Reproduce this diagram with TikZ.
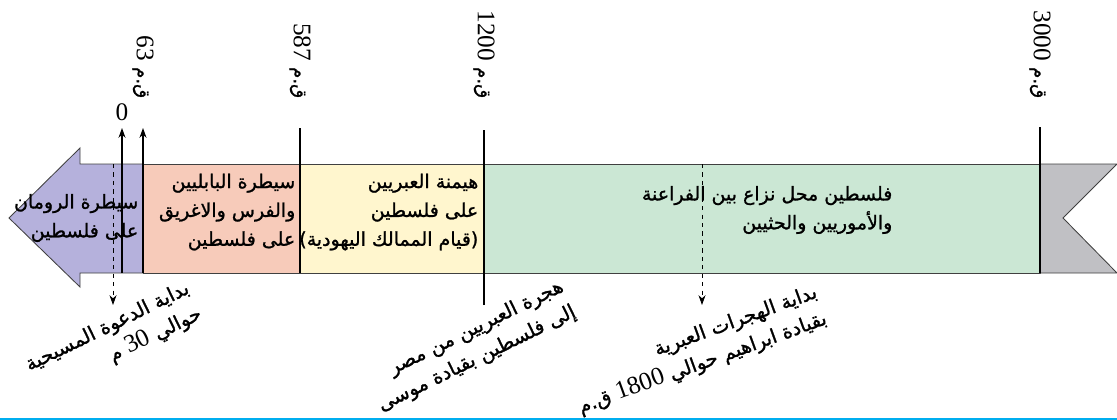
\documentclass[tikz,border=0pt]{standalone}
\usepackage{fontspec}
\setmainfont{Liberation Serif}
\newfontfamily\arabicfont[Script=Arabic, FakeBold=1.2]{DejaVu Sans}
\TeXXeTstate=1
\usetikzlibrary{arrows.meta}

\definecolor{romanc}{RGB}{181,177,220}
\definecolor{babylc}{RGB}{247,203,186}
\definecolor{hebrewc}{RGB}{255,246,206}
\definecolor{canaanc}{RGB}{203,231,212}
\definecolor{flagc}{RGB}{192,192,196}
\definecolor{rulec}{RGB}{0,174,239}

\newcommand{\artxt}[1]{{\arabicfont\beginR #1\endR}}
\newcommand{\yr}[1]{\beginL{\rmfamily\fontsize{18}{20}\selectfont #1}\endL}

\tikzset{band/.style={draw=black!75, line width=0.6pt},
    eratext/.style={font=\fontsize{13.5}{20.5}\selectfont, align=right, inner sep=1pt},
    datelbl/.style={rotate=-90, anchor=east, inner sep=1pt, font=\fontsize{13}{20}\selectfont},
    notetext/.style={font=\fontsize{14}{20}\selectfont, align=right, anchor=east, inner sep=1pt},
    datemark/.style={line width=0.9pt},
    datearrow/.style={line width=0.9pt, -{Stealth[length=7pt,width=5pt]}},
    dashmark/.style={dashed, line width=0.6pt, -{Stealth[length=7pt,width=5pt]}}}

\begin{document}
\begin{tikzpicture}[x=0.025cm, y=-0.025cm]
    \useasboundingbox (0,0) rectangle (1117,420);

    \coordinate (bandtop) at (0,164);
    \coordinate (bandbot) at (0,273);

    % eras
    \filldraw[band, fill=romanc] (9,218) -- (80,148) -- (80,164) -- (143,164) -- (143,273) -- (80,273) -- (80,287) -- cycle;
    \filldraw[band, fill=babylc] (143,164) rectangle (300,273);
    \filldraw[band, fill=hebrewc] (300,164) rectangle (484,273);
    \filldraw[band, fill=canaanc] (484,164) rectangle (1040,273);
    \filldraw[band, fill=flagc] (1040,164) -- (1117,164) -- (1063,218) -- (1117,273) -- (1040,273) -- cycle;

    \node[eratext, anchor=east] (roman) at (140,218) {\artxt{سيطرة الرومان}\\\artxt{على فلسطين}};
    \node[eratext, anchor=north east] (babyl) at (297,172) {\artxt{سيطرة البابليين}\\\artxt{والفرس والاغريق}\\\artxt{على فلسطين}};
    \node[eratext, anchor=north east] (hebrew) at (480,172) {\artxt{هيمنة العبريين}\\\artxt{على فلسطين}\\\artxt{(قيام الممالك اليهودية)}};
    \node[eratext, anchor=east] (canaan) at (894,210) {\artxt{فلسطين محل نزاع بين الفراعنة}\\\artxt{والأموريين والحثيين}};

    % dates
    \coordinate (d0) at (122,128);
    \coordinate (d63) at (143,128);
    \coordinate (d587) at (300,128);
    \coordinate (d1200) at (484,130);
    \coordinate (d3000) at (1040,127);
    \coordinate (d30) at (113,305);
    \coordinate (d1800) at (702,305);
    \coordinate (d1200b) at (484,305);

    \node[inner sep=1pt, anchor=south, font=\fontsize{18}{20}\selectfont] (l0) at ([yshift=4pt]d0) {0};
    \node[datelbl] (l63) at (143,100) {\artxt{ق.م \yr{63}}};
    \node[datelbl] (l587) at (300,100) {\artxt{ق.م \yr{587}}};
    \node[datelbl] (l1200) at (484,100) {\artxt{ق.م \yr{1200}}};
    \node[datelbl] (l3000) at (1040,100) {\artxt{ق.م \yr{3000}}};

    \draw[datearrow] (d0 |- bandbot) -- (d0);
    \draw[datearrow] (d63 |- bandbot) -- (d63);
    \draw[datemark] (d587 |- bandbot) -- (d587);
    \draw[datemark] (d1200b) -- (d1200);
    \draw[datemark] (d3000 |- bandbot) -- (d3000);

    \draw[dashmark] (d30 |- bandtop) -- (d30);
    \draw[dashmark] (d1800 |- bandtop) -- (d1800);

    % notes
    \node[notetext, rotate=26] (n30) at (196,300) {\artxt{بداية الدعوة المسيحية}\\\artxt{حوالي \yr{30} م}};
    \node[notetext, rotate=26] (nmoses) at (570,298) {\artxt{هجرة العبريين من مصر}\\\artxt{إلى فلسطين بقيادة موسى}};
    \node[notetext, rotate=20] (nabraham) at (823,305) {\artxt{بداية الهجرات العبرية}\\\artxt{بقيادة ابراهيم حوالي \yr{1800} ق.م}};

    \draw[rulec, line width=2pt] (0,419) -- (1117,419);
\end{tikzpicture}
\end{document}
